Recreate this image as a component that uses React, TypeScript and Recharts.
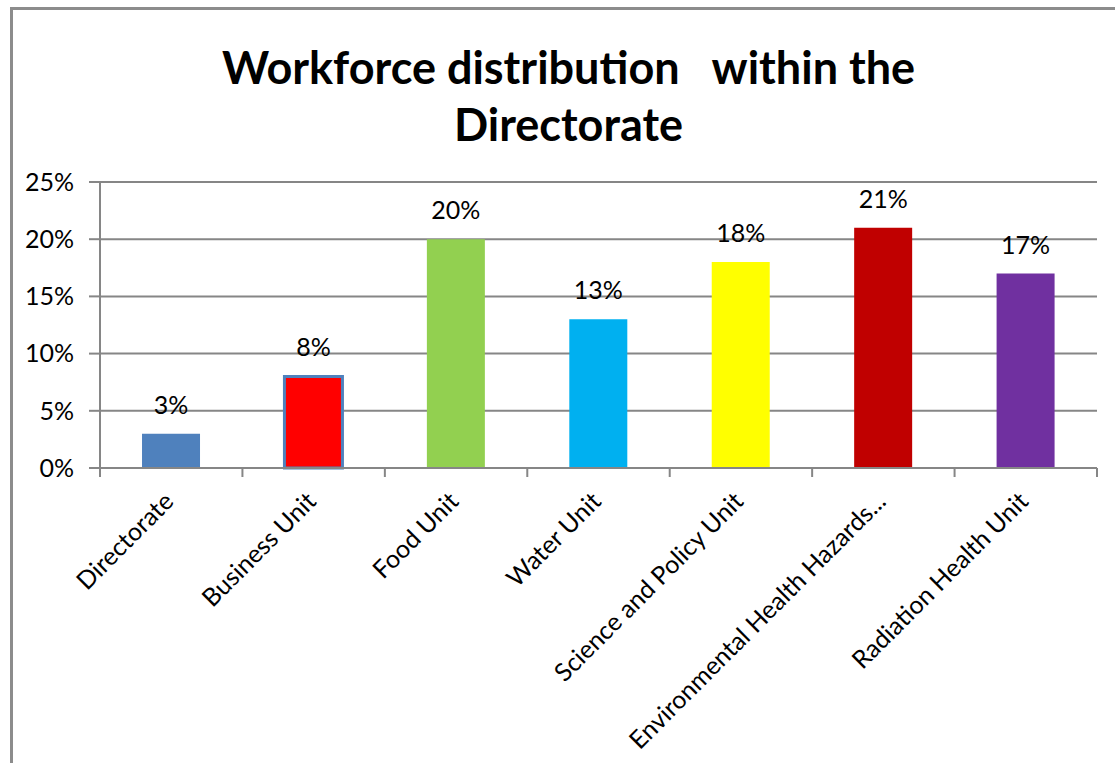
import React from "react";
import { BarChart, Bar, XAxis, YAxis, CartesianGrid, Cell, LabelList } from "recharts";

const units = [
  "Directorate",
  "Business Unit",
  "Food Unit",
  "Water Unit",
  "Science and Policy Unit",
  "Environmental Health Hazards...",
  "Radiation Health Unit",
];
const shares = [3, 8, 20, 13, 18, 21, 17];
const barColors = ["#4F81BD", "#FF0000", "#92D050", "#00B0F0", "#FFFF00", "#C00000", "#7030A0"];
const yTicks = [0, 5, 10, 15, 20, 25];

const data = units.map((name, i) => ({ name, share: shares[i] }));

const W = 1115;
const H = 763;
const PLOT_LEFT = 100;
const PLOT_RIGHT = 1097;
const PLOT_TOP = 182;
const PLOT_BOTTOM = 468;
const band = (PLOT_RIGHT - PLOT_LEFT) / units.length;
const FONT = "Lato, 'Open Sans', sans-serif";
const GRID = "#868686";

function CategoryTick(props: any) {
  const { x, y, payload, index } = props;
  const left = x - band / 2;
  const tx = x + 4;
  const ty = y + 27;
  return (
    <g>
      <line x1={left} y1={y - 8} x2={left} y2={y + 1} stroke={GRID} strokeWidth={2} />
      {index === units.length - 1 && (
        <line x1={x + band / 2} y1={y - 8} x2={x + band / 2} y2={y + 1} stroke={GRID} strokeWidth={2} />
      )}
      <text
        x={tx}
        y={ty}
        textAnchor="end"
        transform={`rotate(-45, ${tx}, ${ty})`}
        fontSize={25}
        fontFamily={FONT}
        fill="#000"
      >
        {payload.value}
      </text>
    </g>
  );
}

export default function App() {
  return (
    <div style={{ position: "absolute", left: 0, top: 0, width: W, height: H, background: "#fff", overflow: "hidden" }}>
      <div style={{ position: "absolute", left: 10, top: 7, width: 3, height: H, background: "#8C8C8C" }} />
      <div style={{ position: "absolute", left: 10, top: 7, width: W, height: 3, background: "#8C8C8C" }} />
      <div
        style={{
          position: "absolute",
          left: 0,
          top: 39,
          width: W + 22,
          textAlign: "center",
          fontFamily: FONT,
          fontWeight: 700,
          fontSize: 45,
          lineHeight: "57px",
          color: "#000",
          whiteSpace: "pre",
        }}
      >
        {"Workforce distribution   within the\nDirectorate"}
      </div>
      <div style={{ position: "absolute", left: 0, top: 0 }}>
        <BarChart
          width={W}
          height={H}
          data={data}
          margin={{ top: PLOT_TOP, right: W - PLOT_RIGHT, bottom: 0, left: 0 }}
          barCategoryGap="29.5%"
        >
          <CartesianGrid vertical={false} stroke={GRID} strokeWidth={2} />
          <YAxis
            width={PLOT_LEFT}
            domain={[0, 25]}
            ticks={yTicks}
            tickFormatter={(v) => `${v}%`}
            axisLine={{ stroke: GRID, strokeWidth: 2 }}
            tickLine={{ stroke: GRID, strokeWidth: 2 }}
            tickSize={11}
            tickMargin={15}
            tick={{ fill: "#000", fontSize: 25, fontFamily: FONT }}
            interval={0}
          />
          <XAxis
            dataKey="name"
            height={H - PLOT_BOTTOM}
            axisLine={{ stroke: GRID, strokeWidth: 2 }}
            tickLine={false}
            interval={0}
            tick={<CategoryTick />}
          />
          <Bar dataKey="share" isAnimationActive={false}>
            {data.map((d, i) => (
              <Cell
                key={d.name}
                fill={barColors[i]}
                stroke={i === 1 ? "#4F81BD" : "none"}
                strokeWidth={i === 1 ? 3 : 0}
              />
            ))}
            <LabelList
              dataKey="share"
              position="top"
              offset={20}
              formatter={(v: any) => `${v}%`}
              style={{ fill: "#000", fontSize: 25, fontFamily: FONT }}
            />
          </Bar>
        </BarChart>
      </div>
    </div>
  );
}
